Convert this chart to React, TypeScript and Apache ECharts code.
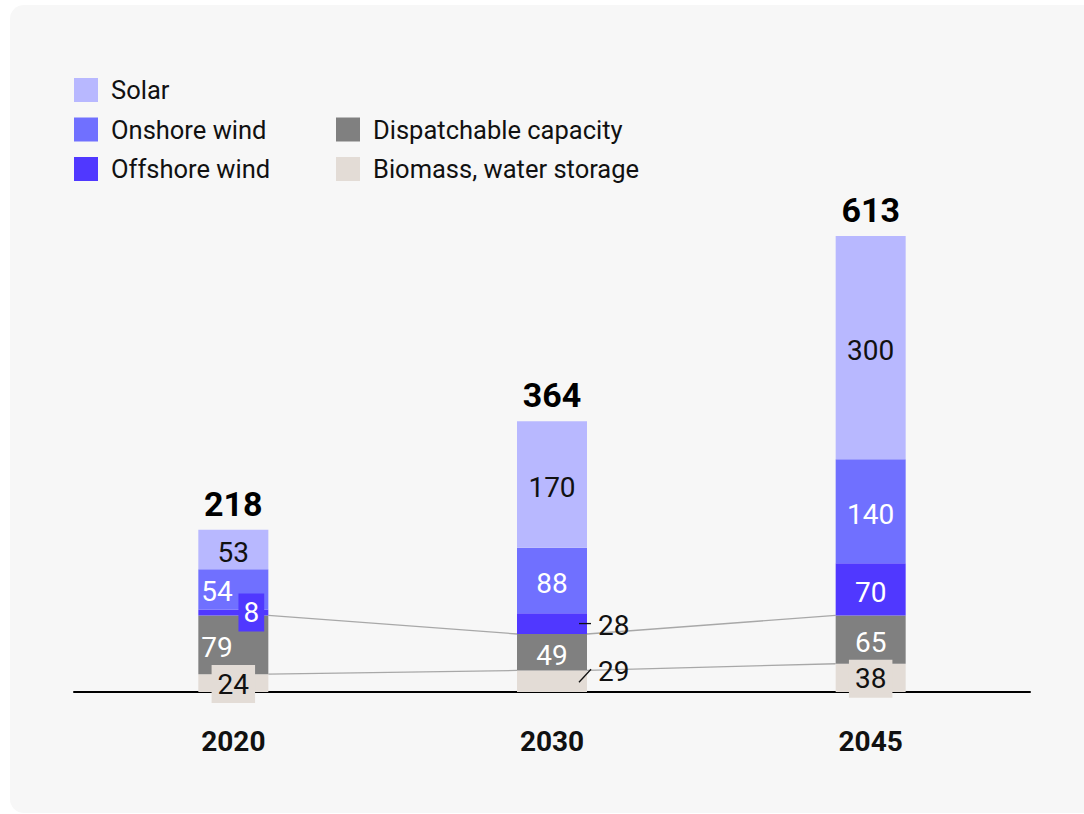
import React, { useEffect, useRef } from "react";
import * as echarts from "echarts";

const years = ["2020", "2030", "2045"];
const biomass = [24, 29, 38];
const dispatchable = [79, 49, 65];
const offshore = [8, 28, 70];
const onshore = [54, 88, 140];
const solar = [53, 170, 300];
const totals = [218, 364, 613];

const FONT = "Roboto";
const BAR_W = 70;

const seriesDefs = [
  { name: "Biomass, water storage", data: biomass, color: "#e3dcd6", text: "#111" },
  { name: "Dispatchable capacity", data: dispatchable, color: "#808080", text: "#fff" },
  { name: "Offshore wind", data: offshore, color: "#5038ff", text: "#fff" },
  { name: "Onshore wind", data: onshore, color: "#7070ff", text: "#fff" },
  { name: "Solar", data: solar, color: "#b8b8ff", text: "#111" },
];

// label placement overrides, keyed "series-category"
const labelOverrides: Record<string, any> = {
  "0-0": { backgroundColor: "#e3dcd6", padding: [5, 6, 5, 6], offset: [0, 1] },
  "0-1": { position: "right", distance: 11, offset: [0, -10], color: "#111" },
  "0-2": { backgroundColor: "#e3dcd6", padding: [5, 6, 5, 6], offset: [0, 1] },
  "1-0": { position: "insideLeft", distance: 3, offset: [0, 3] },
  "2-0": { offset: [18, 0], backgroundColor: "#5038ff", padding: [5, 5, 5, 5] },
  "2-1": { position: "right", distance: 11, offset: [0, 2], color: "#111" },
  "3-0": { position: "insideLeft", distance: 3, offset: [0, 2] },
};

// leader lines: category, series index, start/end offsets from segment centre
const leaders = [
  { cat: 1, s: 2, dx1: 27, dy1: 0, dx2: 39, dy2: 0 },
  { cat: 1, s: 0, dx1: 27, dy1: 1, dx2: 39, dy2: -12 },
];

function cumulative(level: number, cat: number) {
  let v = 0;
  for (let s = 0; s < level; s++) v += seriesDefs[s].data[cat];
  return v;
}

export default function App() {
  const ref = useRef<HTMLDivElement>(null);
  useEffect(() => {
    if (!ref.current) return;
    const chart = echarts.init(ref.current, null, { renderer: "svg" });

    const barSeries = seriesDefs.map((d, si) => ({
      name: d.name,
      type: "bar",
      stack: "total",
      barWidth: BAR_W,
      z: 2,
      itemStyle: { color: d.color },
      label: {
        show: true,
        position: "inside",
        offset: [0, 3],
        color: d.text,
        fontFamily: FONT,
        fontSize: 28,
        lineHeight: 28,
      },
      emphasis: { disabled: true },
      data: d.data.map((v, ci) => {
        const o = labelOverrides[`${si}-${ci}`];
        return o ? { value: v, label: o } : v;
      }),
    }));

    // connector lines at top of biomass and dispatchable levels
    const connectorData: number[][] = [];
    [1, 2].forEach((lvl) => {
      for (let i = 0; i < years.length - 1; i++) {
        connectorData.push([i, cumulative(lvl, i), cumulative(lvl, i + 1)]);
      }
    });

    const leaderData = leaders.map((l) => [
      l.cat,
      cumulative(l.s, l.cat) + seriesDefs[l.s].data[l.cat] / 2,
      l.dx1,
      l.dy1,
      l.dx2,
      l.dy2,
    ]);

    const legendText = {
      fontFamily: FONT,
      fontSize: 25.5,
      color: "#111",
      padding: [0, 0, 0, 8],
    };

    const option: any = {
      animation: false,
      backgroundColor: "#ffffff",
      graphic: [
        {
          type: "rect",
          z: -10,
          shape: { x: 10, y: 5, width: 1100, height: 808, r: 14 },
          style: { fill: "#f7f7f7" },
          silent: true,
        },
      ],
      legend: [
        {
          left: 74,
          top: 77,
          orient: "vertical",
          padding: 0,
          itemWidth: 24,
          itemHeight: 24,
          itemGap: 13.5,
          icon: "rect",
          selectedMode: false,
          data: ["Solar", "Onshore wind", "Offshore wind"],
          textStyle: legendText,
        },
        {
          left: 336,
          top: 116.5,
          orient: "vertical",
          padding: 0,
          itemWidth: 24,
          itemHeight: 24,
          itemGap: 13.5,
          icon: "rect",
          selectedMode: false,
          data: ["Dispatchable capacity", "Biomass, water storage"],
          textStyle: legendText,
        },
      ],
      grid: { left: 74, right: 54, top: 171.3, bottom: 122, containLabel: false },
      xAxis: {
        type: "category",
        data: years,
        axisLine: { show: true, lineStyle: { color: "#000", width: 2 } },
        axisTick: { show: false },
        axisLabel: {
          margin: 35,
          fontFamily: FONT,
          fontSize: 28,
          fontWeight: "bold",
          color: "#111",
        },
      },
      yAxis: {
        type: "value",
        min: 0,
        max: 700,
        show: false,
        splitLine: { show: false },
      },
      series: [
        ...barSeries,
        {
          name: "connectors",
          type: "custom",
          z: 1,
          silent: true,
          data: connectorData,
          renderItem: (params: any, api: any) => {
            const p1 = api.coord([api.value(0), api.value(1)]);
            const p2 = api.coord([api.value(0) + 1, api.value(2)]);
            return {
              type: "line",
              shape: { x1: p1[0] + BAR_W / 2, y1: p1[1], x2: p2[0] - BAR_W / 2, y2: p2[1] },
              style: { stroke: "#a8a8a8", lineWidth: 1.3 },
            };
          },
        },
        {
          name: "leaders",
          type: "custom",
          z: 5,
          silent: true,
          data: leaderData,
          renderItem: (params: any, api: any) => {
            const p = api.coord([api.value(0), api.value(1)]);
            return {
              type: "line",
              shape: {
                x1: p[0] + api.value(2),
                y1: p[1] + api.value(3),
                x2: p[0] + api.value(4),
                y2: p[1] + api.value(5),
              },
              style: { stroke: "#111", lineWidth: 1.3 },
            };
          },
        },
        {
          name: "totals",
          type: "scatter",
          symbolSize: 0,
          silent: true,
          itemStyle: { opacity: 1 },
          data: totals,
          label: {
            show: true,
            position: "top",
            distance: 9,
            fontFamily: FONT,
            fontSize: 34,
            fontWeight: "bold",
            color: "#000",
            formatter: (p: any) => String(totals[p.dataIndex]),
          },
        },
      ],
    };
    chart.setOption(option);
    return () => chart.dispose();
  }, []);

  return (
    <div
      ref={ref}
      style={{ position: "absolute", left: 0, top: 0, width: 1084, height: 814 }}
    />
  );
}
